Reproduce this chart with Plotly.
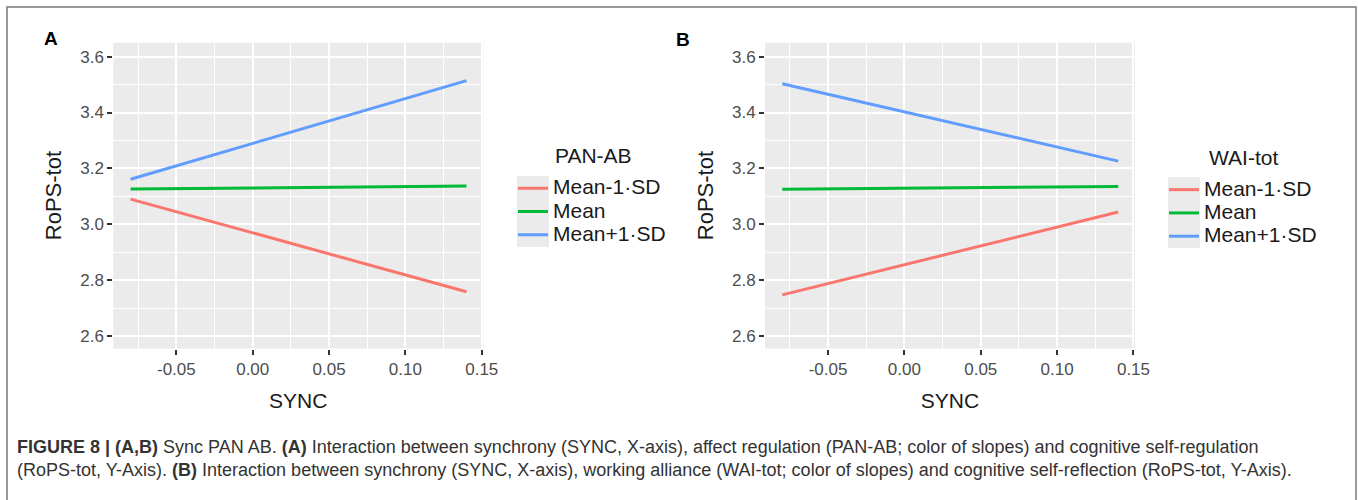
import plotly.graph_objects as go

# ---------------- data ----------------
sync_x = [-0.08, 0.14]
levels = ["Mean-1·SD", "Mean", "Mean+1·SD"]
level_colors = ["#F8766D", "#00BA38", "#619CFF"]

# Panel A: PAN-AB moderator
pan_low = [3.090, 2.758]
pan_mean = [3.126, 3.137]
pan_high = [3.161, 3.514]

# Panel B: WAI-tot moderator
wai_low = [2.747, 3.044]
wai_mean = [3.125, 3.135]
wai_high = [3.503, 3.226]

x_tickvals = [-0.05, 0.00, 0.05, 0.10, 0.15]
x_ticktext = ["-0.05", "0.00", "0.05", "0.10", "0.15"]
x_minor = [-0.075, -0.025, 0.025, 0.075, 0.125]
y_tickvals = [2.6, 2.8, 3.0, 3.2, 3.4, 3.6]
y_ticktext = ["2.6", "2.8", "3.0", "3.2", "3.4", "3.6"]
y_minor = [2.7, 2.9, 3.1, 3.3, 3.5]

legend_titles = ["PAN-AB", "WAI-tot"]

caption_1 = ("<b>FIGURE 8 | (A,B)</b> Sync PAN AB. <b>(A)</b> Interaction between synchrony (SYNC, X-axis), "
             "affect regulation (PAN-AB; color of slopes) and cognitive self-regulation")
caption_2 = ("(RoPS-tot, Y-Axis). <b>(B)</b> Interaction between synchrony (SYNC, X-axis), working alliance "
             "(WAI-tot; color of slopes) and cognitive self-reflection (RoPS-tot, Y-Axis).")

# ---------------- layout helpers ----------------
W, H = 1358, 500
FONT = "Liberation Sans, Arial, Helvetica, sans-serif"


def px_x(v):
    return v / W


def px_y(v):
    return 1 - v / H


fig = go.Figure()

panels = [
    ("x", "y", "legend", [pan_low, pan_mean, pan_high]),
    ("x2", "y2", "legend2", [wai_low, wai_mean, wai_high]),
]
for xa, ya, leg, series in panels:
    for name, col, vals in zip(levels, level_colors, series):
        fig.add_trace(go.Scatter(
            x=sync_x, y=vals, mode="lines", xaxis=xa, yaxis=ya,
            name=f"<span style='font-size:21px'>{name}</span>",
            line=dict(color=col, width=3), legend=leg, hoverinfo="skip",
        ))


def x_axis(domain, anchor):
    return dict(
        domain=domain, anchor=anchor, range=[-0.0913, 0.151],
        tickmode="array", tickvals=x_tickvals, ticktext=x_ticktext,
        ticks="outside", ticklen=5, tickwidth=1.6, tickcolor="#333333",
        tickfont=dict(size=17, color="#4D4D4D", family=FONT),
        showgrid=True, gridcolor="white", gridwidth=1.8,
        zeroline=False, showline=False,
        minor=dict(tickmode="array", tickvals=x_minor, showgrid=True,
                   gridcolor="white", gridwidth=0.8, ticks=""),
        title=dict(text="SYNC", font=dict(size=21, color="#1a1a1a", family=FONT), standoff=15),
        automargin=False, fixedrange=True,
    )


def y_axis(domain, anchor):
    return dict(
        domain=domain, anchor=anchor, range=[2.555, 3.65],
        tickmode="array", tickvals=y_tickvals, ticktext=y_ticktext,
        ticks="outside", ticklen=5, tickwidth=1.6, tickcolor="#333333",
        tickfont=dict(size=17, color="#4D4D4D", family=FONT),
        showgrid=True, gridcolor="white", gridwidth=1.8,
        zeroline=False, showline=False,
        minor=dict(tickmode="array", tickvals=y_minor, showgrid=True,
                   gridcolor="white", gridwidth=0.8, ticks=""),
        title=dict(text="RoPS-tot", font=dict(size=22, color="#1a1a1a", family=FONT), standoff=12),
        automargin=False, fixedrange=True,
    )


def legend_cfg(x_left, y_top):
    return dict(
        x=px_x(x_left), xanchor="left", y=px_y(y_top), yanchor="top",
        font=dict(size=15.6, family=FONT, color="#1a1a1a"),
        bgcolor="rgba(0,0,0,0)", borderwidth=0, tracegroupgap=0,
    )


y_dom = [px_y(348.5), px_y(42.7)]
fig.update_layout(
    width=W, height=H,
    margin=dict(l=0, r=0, t=0, b=0),
    paper_bgcolor="white", plot_bgcolor="#EBEBEB",
    font=dict(family=FONT, color="#1a1a1a"),
    xaxis=x_axis([px_x(113.3), px_x(483.3)], "y"),
    yaxis=y_axis(y_dom, "x"),
    xaxis2=x_axis([px_x(765), px_x(1135)], "y2"),
    yaxis2=y_axis(y_dom, "x2"),
    legend=legend_cfg(513, 171.5),
    legend2=legend_cfg(1164, 173),
    showlegend=True,
)

# legend titles
for title, xl, yc in zip(legend_titles, [553, 1207], [155.5, 157]):
    fig.add_annotation(text=title, x=px_x(xl), y=px_y(yc), xref="paper", yref="paper",
                       showarrow=False, xanchor="left", yanchor="middle",
                       font=dict(size=21, color="#1a1a1a", family=FONT))

# legend key backgrounds (ggplot-style grey key boxes)
for x0, x1, y0, y1 in [(517, 549, 176, 247), (1168, 1200, 177, 248)]:
    fig.add_shape(type="rect", xref="paper", yref="paper",
                  x0=px_x(x0), x1=px_x(x1), y0=px_y(y1), y1=px_y(y0),
                  fillcolor="#EBEBEB", line=dict(width=0), layer="below")

# outer frame (open at the bottom)
fig.add_shape(type="path", xref="paper", yref="paper",
              path=f"M {px_x(7)},0 L {px_x(7)},{px_y(7)} L {px_x(1356)},{px_y(7)} L {px_x(1356)},0",
              line=dict(color="#7a7a7a", width=1.5), layer="above")

# panel letters
fig.add_annotation(text="<b>A</b>", x=px_x(50.5), y=px_y(39), xref="paper", yref="paper",
                   showarrow=False, xanchor="center", yanchor="middle",
                   font=dict(size=19, color="black", family=FONT))
fig.add_annotation(text="<b>B</b>", x=px_x(683), y=px_y(39.5), xref="paper", yref="paper",
                   showarrow=False, xanchor="center", yanchor="middle",
                   font=dict(size=19, color="black", family=FONT))

# caption
for txt, yc in [(caption_1, 447), (caption_2, 470)]:
    fig.add_annotation(text=txt, x=px_x(15), y=px_y(yc), xref="paper", yref="paper",
                       showarrow=False, xanchor="left", yanchor="middle", align="left",
                       font=dict(size=18, color="#333333", family=FONT))

fig.write_html("out.html")
